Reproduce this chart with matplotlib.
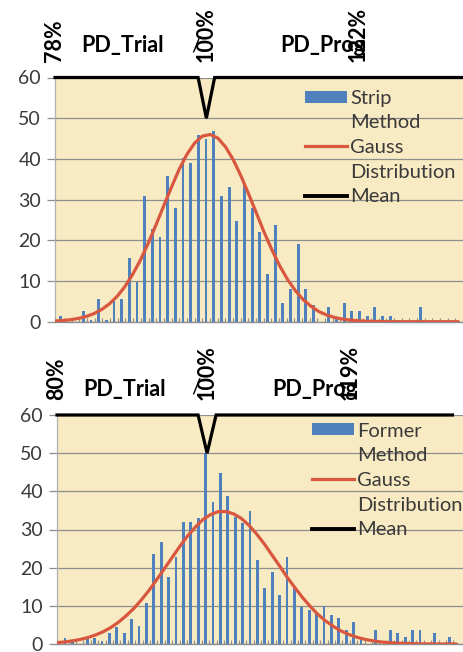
import matplotlib
matplotlib.use("Agg")
import matplotlib.pyplot as plt
import numpy as np
from matplotlib.lines import Line2D
from matplotlib.patches import Patch
from matplotlib.ticker import FixedLocator

plt.rcParams['font.family'] = ['Lato', 'DejaVu Sans']

# ---------------- data ----------------
top_counts = [1.5, 0, 0, 2.7, 0.5, 5.7, 0.5, 5.7, 5.5, 15.7,
              9.8, 30.9, 22.8, 20.9, 35.9, 27.9, 40.2, 39.0, 45.9, 45.0,
              46.8, 30.9, 33.2, 24.8, 33.8, 27.9, 22.0, 11.8, 23.7, 4.7,
              8.0, 19.1, 8.0, 4.0, 0, 3.7, 0.6, 4.6, 2.7, 2.7,
              1.5, 3.7, 1.5, 1.5, 0.3, 0, 0, 3.7, 0, 0,
              0, 0, 0]
top_gauss = [0.17, 0.29, 0.49, 0.80, 1.27, 1.97, 2.98, 4.37, 6.2, 8.6,
             11.6, 15.1, 19.2, 23.7, 28.4, 33.0, 37.4, 41.1, 43.9, 45.6,
             46.0, 45.1, 42.9, 39.7, 35.7, 31.2, 26.5, 21.8, 17.5, 13.6,
             10.3, 7.6, 5.4, 3.8, 2.5, 1.66, 1.06, 0.66, 0.40, 0.23,
             0.13, 0.07, 0.03, 0, 0, 0, 0, 0, 0, 0,
             0, 0, 0]
bottom_counts = [1.6, 0.4, 0, 1.6, 1.6, 0.9, 2.8, 4.4, 2.8, 6.6,
                 4.6, 10.7, 23.7, 26.8, 17.5, 22.8, 32.0, 32.0, 32.9, 50.0,
                 37.1, 44.7, 38.9, 33.3, 31.6, 34.9, 21.9, 14.7, 18.9, 12.9,
                 22.8, 14.7, 9.8, 8.8, 7.8, 9.9, 7.7, 6.8, 3.7, 5.8,
                 1.8, 0, 3.7, 0, 3.7, 2.8, 1.8, 3.7, 3.7, 0,
                 2.8, 0, 1.8]
bottom_gauss = [0.36, 0.55, 0.81, 1.18, 1.68, 2.35, 3.2, 4.3, 5.7, 7.4,
                9.3, 11.6, 14.1, 16.9, 19.8, 22.7, 25.6, 28.3, 30.6, 32.6,
                33.9, 34.7, 34.7, 34.1, 32.9, 31.1, 28.8, 26.2, 23.3, 20.4,
                17.4, 14.7, 12.1, 9.8, 7.7, 6.0, 4.6, 3.4, 2.5, 1.8,
                1.27, 0.88, 0.59, 0.39, 0.25, 0.16, 0.1, 0.05, 0.03, 0,
                0, 0, 0]

y_ticks = [0, 10, 20, 30, 40, 50, 60]

top_pct_ticks = [78, 100, 122]
top_pct_labels = ['78%', '100%', '122%']
bottom_pct_ticks = [80, 100, 119]
bottom_pct_labels = ['80%', '100%', '119%']

mean_y = [60, 60, 50, 60, 60]
top_mean_x = [78, 98.8, 100, 101.2, 137.3]
bottom_mean_x = [80, 98.8, 100, 101.2, 132.7]

top_legend = ['Strip', 'Method', 'Gauss', 'Distribution', 'Mean']
bottom_legend = ['Former', 'Method', 'Gauss', 'Distribution', 'Mean']
axis_names = ['PD_Trial', 'PD_Prog']

# ---------------- style ----------------
BLUE = '#4F81BD'
RED = '#D9573F'
BG = '#F8EAC2'
GRID = '#8E8E8E'
TXT = '#3A3A3A'

W, H = 464, 652
fig = plt.figure(figsize=(W / 100, H / 100), dpi=100)
fig.patch.set_facecolor('white')


def px_rect(l, r, t, b):
    return [l / W, 1 - b / H, (r - l) / W, (b - t) / H]


def panel(rect, counts, gauss, xlim, line_span, pct_lim, pct_ticks, pct_labels,
          mean_x, legend_labels, leg_anchor, name_pos):
    ax = fig.add_axes(rect)
    ax.set_facecolor(BG)
    n = len(counts)
    xb = np.arange(n)
    ax.bar(xb, counts, width=0.38, color=BLUE, zorder=3)
    xl = np.linspace(line_span[0], line_span[1], len(gauss))
    ax.plot(xl, gauss, color=RED, lw=2.3, zorder=4, solid_capstyle='round')
    ax.set_xlim(*xlim)
    ax.set_ylim(0, 60)
    ax.set_yticks(y_ticks)
    ax.yaxis.grid(True, color=GRID, lw=0.9, zorder=1)
    ax.set_axisbelow(True)
    ax.tick_params(axis='y', length=6, width=0.9, color=GRID, labelsize=14,
                   labelcolor=TXT, pad=4)
    ax.set_xticks([])
    ax.xaxis.set_minor_locator(FixedLocator(xb + 0.5))
    ax.tick_params(axis='x', which='minor', direction='in', length=3,
                   width=0.8, color=GRID)
    for s in ['top', 'right']:
        ax.spines[s].set_visible(False)
    ax.spines['left'].set_color('#B0B0B0')
    ax.spines['bottom'].set_color(GRID)
    ax.spines['left'].set_linewidth(0.9)
    ax.spines['bottom'].set_linewidth(1.0)

    ax2 = ax.twiny()
    ax2.set_xlim(*pct_lim)
    ax2.plot(mean_x, mean_y, color='black', lw=2.3, zorder=5, clip_on=False,
             solid_joinstyle='miter')
    ax2.set_xticks(pct_ticks)
    ax2.set_xticklabels(pct_labels, rotation=90, fontsize=15.5, fontweight='bold')
    ax2.tick_params(axis='x', length=0, pad=11)
    for s in ax2.spines.values():
        s.set_visible(False)

    for nm, (fx, fy) in zip(axis_names, name_pos):
        ax.text(fx, fy, nm, transform=ax.transAxes, ha='center', va='center',
                fontsize=15.5, fontweight='bold', color='black')

    handles = [Patch(facecolor=BLUE, edgecolor='none'),
               Line2D([], [], color='none'),
               Line2D([], [], color=RED, lw=2.3),
               Line2D([], [], color='none'),
               Line2D([], [], color='black', lw=2.8)]
    leg = ax.legend(handles, legend_labels, loc='upper left',
                    bbox_to_anchor=leg_anchor, frameon=False, fontsize=14.5,
                    handlelength=2.1, handleheight=0.55, handletextpad=0.15,
                    labelspacing=0.38, borderpad=0, borderaxespad=0)
    for t in leg.get_texts():
        t.set_color(TXT)
    return ax, ax2


panel(px_rect(55, 463, 77.5, 321.7), top_counts, top_gauss,
      xlim=(-0.69, 52.5), line_span=(-0.69, 51.9),
      pct_lim=(78, 137.3), pct_ticks=top_pct_ticks, pct_labels=top_pct_labels,
      mean_x=top_mean_x, legend_labels=top_legend,
      leg_anchor=(0.613, 0.95), name_pos=[(0.166, 1.133), (0.657, 1.133)])

panel(px_rect(57, 463, 415, 644), bottom_counts, bottom_gauss,
      xlim=(-1.08, 53.8), line_span=(-1.08, 52.9),
      pct_lim=(80, 134.1), pct_ticks=bottom_pct_ticks, pct_labels=bottom_pct_labels,
      mean_x=bottom_mean_x, legend_labels=bottom_legend,
      leg_anchor=(0.628, 0.967), name_pos=[(0.167, 1.113), (0.634, 1.113)])

fig.text(196 / W, 1 - 46 / H, '/', fontsize=15, ha='center', va='center')
fig.text(196 / W, 1 - 388 / H, '/', fontsize=15, ha='center', va='center')

fig.savefig('out.png', dpi=100, facecolor='white')
